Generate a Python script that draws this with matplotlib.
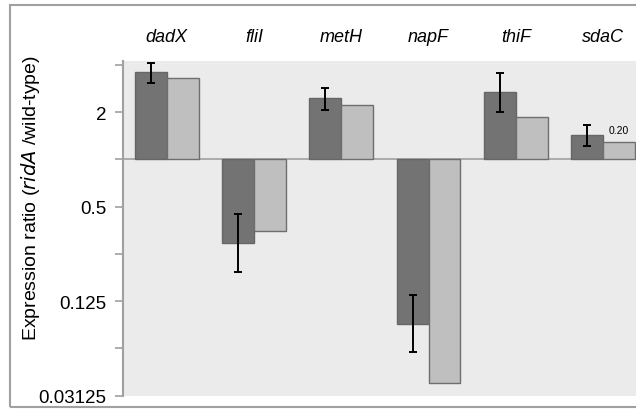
import matplotlib
matplotlib.use("Agg")
import matplotlib.pyplot as plt
from matplotlib.patches import Rectangle
import numpy as np

plt.rcParams['font.family'] = ['Liberation Sans', 'DejaVu Sans']

genes = ["dadX", "fliI", "metH", "napF", "thiF", "sdaC"]
gene_labels = ["dadX", "fliI", "metH", "napF", "thiF", "sdaC"]
dark_vals = [3.60, 0.292, 2.44, 0.089, 2.70, 1.42]
dark_err_hi = [4.12, 0.446, 2.86, 0.137, 3.54, 1.65]
dark_err_lo = [3.05, 0.192, 2.06, 0.059, 2.01, 1.21]
light_vals = [3.28, 0.350, 2.21, 0.0375, 1.87, 1.28]
yticks = [0.03125, 0.0625, 0.125, 0.25, 0.5, 1, 2, 4]
ytick_labels = ["0.03125", "", "0.125", "", "0.5", "", "2", ""]
annot_text = "0.20"

W, H = 636, 410
fig = plt.figure(figsize=(W / 100, H / 100), dpi=100)
ax = fig.add_axes([123 / W, 1 - 396.5 / H, (W - 123) / W, (396.5 - 62) / H])
ax.set_facecolor("#ebebeb")

x = np.arange(len(genes))
bw = 0.366
dark = np.array(dark_vals)
light = np.array(light_vals)
ax.bar(x - bw / 2, dark - 1, bottom=1, width=bw, color="#737373",
       edgecolor="#666666", linewidth=1.0, zorder=2)
ax.bar(x + bw / 2, light - 1, bottom=1, width=bw, color="#bfbfbf",
       edgecolor="#6e6e6e", linewidth=1.0, zorder=2)
lo = dark - np.array(dark_err_lo)
hi = np.array(dark_err_hi) - dark
ax.errorbar(x - bw / 2, dark, yerr=[lo, hi], fmt="none", ecolor="black",
            elinewidth=1.4, capsize=3, capthick=1.4, zorder=3)

ax.axhline(1, color="#a0a0a0", linewidth=1.2, zorder=1)

ax.set_yscale("log", base=2)
ax.set_ylim(0.03125, 2 ** 2.08)
ax.set_xlim(-0.5, (W - 166.6) / 87.3)
ax.set_yticks(yticks)
ax.set_yticklabels(ytick_labels, fontsize=13.5)
ax.yaxis.set_minor_locator(matplotlib.ticker.NullLocator())
ax.tick_params(axis="y", length=6, width=1.2, color="#a0a0a0", pad=6)
ax.set_xticks([])
for s in ["top", "right", "bottom"]:
    ax.spines[s].set_visible(False)
ax.spines["left"].set_color("#a0a0a0")
ax.spines["left"].set_linewidth(1.5)

for xi, g in zip(x, gene_labels):
    ax.text(xi, 1.0 + (62 - 37) / (396.5 - 62), g, transform=ax.get_xaxis_transform(),
            ha="center", va="center", fontsize=13, style="italic")

ax.text(x[-1] + bw / 2, light[-1] * 1.12, annot_text, ha="center",
        va="bottom", fontsize=7.5)

fig.text(31 / W, 1 - 198 / H, r"Expression ratio ($\it{ridA}$ /wild-type)",
         rotation=90, ha="center", va="center", fontsize=14)

fig.patches.append(Rectangle((10 / W, 1 - 408 / H), (W + 20) / W, (408 - 6) / H,
                             transform=fig.transFigure, fill=False,
                             edgecolor="#a0a0a0", linewidth=1.5))

fig.savefig("out.png", dpi=100)
